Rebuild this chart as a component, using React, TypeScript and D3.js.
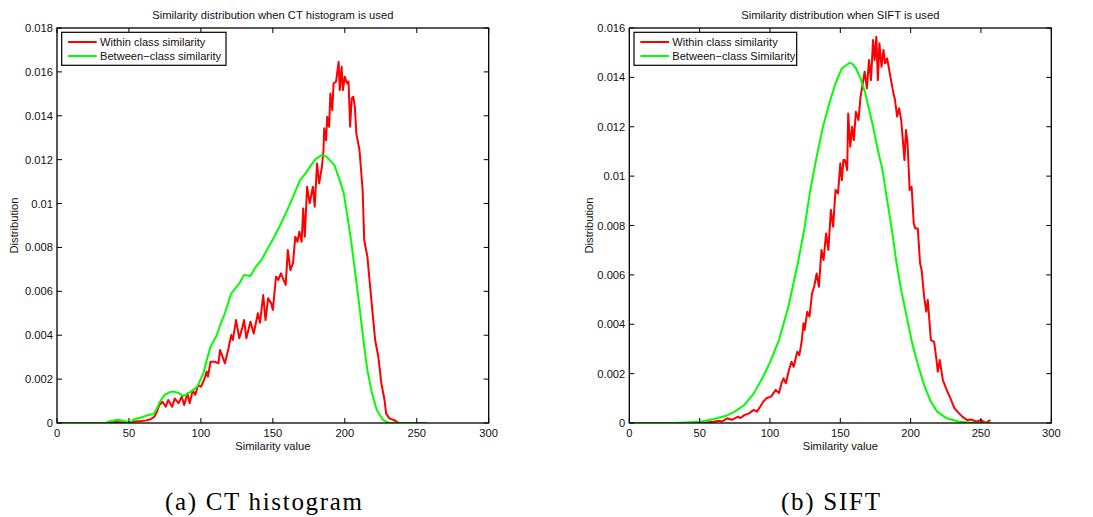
import React from "react";
import * as d3 from "d3";

type Pt = [number, number];

const xTicks = [0, 50, 100, 150, 200, 250, 300];
const ctYTicks = [0, 0.002, 0.004, 0.006, 0.008, 0.01, 0.012, 0.014, 0.016, 0.018];
const ctYLabels = ["0", "0.002", "0.004", "0.006", "0.008", "0.01", "0.012", "0.014", "0.016", "0.018"];
const siftYTicks = [0, 0.002, 0.004, 0.006, 0.008, 0.01, 0.012, 0.014, 0.016];
const siftYLabels = ["0", "0.002", "0.004", "0.006", "0.008", "0.01", "0.012", "0.014", "0.016"];

const ctBetween: Pt[] = [
  [0, 0], [34, 0], [37, 0.00008], [42, 0.00015], [46, 0.0001], [50, 0.00002], [54, 0.00018], [58, 0.00024],
  [63, 0.00036], [67, 0.0004], [69, 0.0006], [71.5, 0.00097], [74.8, 0.00128], [78, 0.0014], [81.3, 0.00143],
  [84, 0.00138], [87.7, 0.00123], [90, 0.0013], [93, 0.00143], [97.4, 0.00165], [101.7, 0.00226], [104, 0.00285],
  [106.7, 0.00348], [111, 0.004], [113, 0.0044], [116.7, 0.005], [121, 0.0059], [126.7, 0.00636], [130, 0.00674],
  [134.4, 0.0067], [138, 0.0071], [142.2, 0.00743], [146, 0.0079], [151, 0.00849], [155, 0.009], [160, 0.0097],
  [164, 0.0103], [168.9, 0.01107], [173, 0.0114], [176.5, 0.01175], [180, 0.01205], [184.1, 0.01221],
  [187, 0.01215], [189.6, 0.01198], [192.8, 0.01175], [197.2, 0.01092], [199.3, 0.01046], [201.5, 0.00955],
  [204.3, 0.00834], [207, 0.00697], [209.1, 0.0059], [211.3, 0.0047], [213.5, 0.00348], [215.7, 0.00241],
  [218.9, 0.00135], [222.2, 0.00059], [226.5, 0.00014], [230.9, 0], [257, 0],
];

const ctWithin: Pt[] = [
  [0, 0], [36, 0], [40, 0.00004], [44, 0.00003], [48, 0], [52, 0.00006], [58.6, 0.00009], [62, 0.00012],
  [65.1, 0.00017], [67.7, 0.00029], [69.4, 0.0005], [71.1, 0.00082], [73.3, 0.00097], [75.6, 0.00074],
  [77.3, 0.00105], [80, 0.00074], [81.8, 0.00112], [84.4, 0.0009], [86.7, 0.0012], [88.4, 0.00082],
  [90.7, 0.00135], [92.2, 0.0009], [94.4, 0.0015], [96, 0.00128], [98.2, 0.00173], [100, 0.00165],
  [102.2, 0.00196], [104, 0.00234], [104.9, 0.00211], [106.7, 0.00279], [110, 0.00279], [112.2, 0.00272],
  [113.3, 0.00333], [116.7, 0.00272], [118.9, 0.00333], [121.1, 0.00401], [122.2, 0.00378], [124.4, 0.00469],
  [126.7, 0.00386], [128.9, 0.00439], [130, 0.00469], [131.6, 0.00386], [134.4, 0.00462], [136.7, 0.00408],
  [139.6, 0.005], [141.1, 0.00457], [143.3, 0.00583], [144.9, 0.00469], [146.7, 0.00568], [148.9, 0.00545],
  [150, 0.00515], [152.2, 0.00667], [153.8, 0.00652], [155.6, 0.00682], [158.9, 0.00629], [160.4, 0.00788],
  [162.2, 0.00697], [164, 0.00728], [165.6, 0.00849], [167.1, 0.00826], [168.4, 0.00872], [170, 0.00826],
  [171.1, 0.00978], [172.2, 0.00849], [173.8, 0.01077], [175.6, 0.01001], [177.8, 0.01077], [179.1, 0.00986],
  [180.7, 0.01183], [182.2, 0.01092], [184.1, 0.01168], [185.2, 0.01244], [185.7, 0.01343], [187, 0.01289],
  [187.8, 0.01396], [189.1, 0.0135], [190, 0.01502], [191.3, 0.01426], [192.2, 0.01548], [193.9, 0.01555],
  [195.7, 0.01646], [196.5, 0.01517], [197.8, 0.01623], [198.7, 0.01517], [200, 0.01578], [201.5, 0.01548],
  [202.6, 0.01555], [203.7, 0.0135], [204.8, 0.01479], [205.9, 0.01487], [207, 0.01441], [208, 0.0132],
  [210.2, 0.01244], [212.4, 0.01062], [213.5, 0.00834], [215.7, 0.00758], [217.4, 0.00636], [218.9, 0.0053],
  [221.1, 0.00378], [223.3, 0.00302], [225.4, 0.00181], [227.6, 0.00105], [228.7, 0.00044], [230.9, 0.00021],
  [234.1, 0.00014], [236, 0.00005], [238, 0], [257, 0],
];

const siftBetween: Pt[] = [
  [0, 0], [30, 0], [40, 0.00002], [50, 0.00005], [59.4, 0.00015], [68.3, 0.00028], [75, 0.00046],
  [81.8, 0.00073], [88.5, 0.0012], [95.2, 0.00188], [99.7, 0.00242], [106.4, 0.00336], [113.1, 0.00471],
  [119.8, 0.00647], [124.3, 0.00782], [128.7, 0.00944], [133.2, 0.01079], [137.7, 0.012], [142.2, 0.01295],
  [146.6, 0.01376], [151.1, 0.01437], [154.5, 0.0145], [156.7, 0.01459], [158.5, 0.01455], [161.1, 0.01437],
  [164.4, 0.01396], [167.8, 0.01335], [170, 0.01281], [173.3, 0.012], [176.7, 0.01106], [180, 0.01025],
  [183.3, 0.00903], [186.7, 0.00782], [190, 0.00647], [193.3, 0.00539], [196.7, 0.00444], [201.1, 0.00323],
  [205.6, 0.00228], [210, 0.00147], [214.4, 0.00086], [218.9, 0.00046], [225.6, 0.00019], [234.4, 0.00005],
  [245, 0.00001], [257, 0],
];

const siftWithin: Pt[] = [
  [0, 0], [45, 0], [48, 0.00003], [52, 0], [54.9, 0.00002], [60, 0.00005], [63.9, 0.00009], [66, 0.00006],
  [69.5, 0.00019], [72.8, 0.00013], [77.3, 0.00026], [79, 0.0002], [81.8, 0.00032], [85.1, 0.00039],
  [88.5, 0.00053], [90.7, 0.00046], [93, 0.00066], [95.2, 0.00086], [97.4, 0.001], [100.8, 0.00107],
  [104.1, 0.00134], [106.4, 0.00121], [108.2, 0.00161], [109.7, 0.00181], [111.3, 0.00161], [113.5, 0.00215],
  [115.3, 0.00248], [116.9, 0.00228], [119.4, 0.00289], [120.9, 0.00275], [122.5, 0.00329], [123.8, 0.00404],
  [124.7, 0.00377], [126.5, 0.00451], [128.1, 0.00431], [129.9, 0.00525], [131.4, 0.00552], [133.2, 0.00606],
  [134.8, 0.00552], [136.6, 0.00701], [138.1, 0.0066], [139.9, 0.00768], [141.5, 0.00701], [143.3, 0.00863],
  [144.9, 0.00795], [146.6, 0.00944], [148.4, 0.0093], [150, 0.01052], [151.1, 0.00984], [152.2, 0.01065],
  [153.3, 0.01065], [154.9, 0.01025], [155.6, 0.01254], [157.1, 0.01119], [158.4, 0.012], [159.6, 0.01146],
  [161.1, 0.01261], [162.9, 0.01227], [164.4, 0.01322], [165.6, 0.01362], [167.3, 0.01423], [168.9, 0.01356],
  [170.4, 0.0147], [171.8, 0.01389], [173.3, 0.01551], [174.4, 0.0147], [175.6, 0.01565], [176.7, 0.01389],
  [177.8, 0.01538], [179.3, 0.01443], [180.7, 0.01511], [181.8, 0.01457], [183.3, 0.01477], [185.6, 0.01403],
  [187.8, 0.01335], [188.9, 0.01308], [190.4, 0.01241], [191.8, 0.01275], [193.3, 0.01227], [195.6, 0.01065],
  [196.7, 0.01187], [197.8, 0.01133], [199.3, 0.00944], [200.7, 0.00957], [202.2, 0.00809], [203.3, 0.00788],
  [205.1, 0.00788], [206.7, 0.00647], [207.8, 0.0062], [209.6, 0.00512], [211.1, 0.00451], [212.2, 0.00498],
  [214.4, 0.00336], [216.7, 0.00329], [218.4, 0.00255], [219.3, 0.00208], [220.7, 0.00255], [222.9, 0.00174],
  [225.6, 0.00134], [227.8, 0.00107], [231.1, 0.0006], [233.3, 0.00046], [236.7, 0.00026], [240, 0.00012],
  [243.3, 0.00014], [246.7, 0.00005], [250, 0.00012], [253.3, 0.00001], [256.7, 0.00012],
];

const SANS = "'Liberation Sans', Arial, Helvetica, sans-serif";
const FS = 11.2;

type PanelProps = {
  x0: number; x1: number; y0: number; y1: number;
  yMax: number; yTicks: number[]; yLabels: string[];
  title: string; within: Pt[]; between: Pt[];
  legendWithin: string; legendBetween: string; legendW: number;
  ylabelX: number; caption: string; captionX: number; captionW: number;
};

function Panel(p: PanelProps) {
  const x = d3.scaleLinear().domain([0, 300]).range([p.x0, p.x1]);
  const y = d3.scaleLinear().domain([0, p.yMax]).range([p.y1, p.y0]);
  const line = d3.line<Pt>().x((d) => x(d[0])).y((d) => y(d[1]));
  const tl = 5;
  const lx = p.x0 + 4.7;
  const ly = p.y0 + 4.3;
  return (
    <g>
      <text x={(p.x0 + p.x1) / 2} y={19} textAnchor="middle" fontFamily={SANS} fontSize={FS} fill="#111">{p.title}</text>
      <rect x={p.x0} y={p.y0} width={p.x1 - p.x0} height={p.y1 - p.y0} fill="#fff" />
      <clipPath id={"clip" + Math.round(p.x0)}>
        <rect x={p.x0} y={p.y0} width={p.x1 - p.x0} height={p.y1 - p.y0} />
      </clipPath>
      <g clipPath={`url(#clip${Math.round(p.x0)})`}>
        <path d={line(p.within) || ""} fill="none" stroke="#ff0000" strokeWidth={2} strokeLinejoin="round" />
        <path d={line(p.between) || ""} fill="none" stroke="#00ff00" strokeWidth={2} strokeLinejoin="round" />
      </g>
      {xTicks.map((t) => (
        <g key={"x" + t}>
          <line x1={x(t)} x2={x(t)} y1={p.y1} y2={p.y1 - tl} stroke="#000" strokeWidth={1} />
          <line x1={x(t)} x2={x(t)} y1={p.y0} y2={p.y0 + tl} stroke="#000" strokeWidth={1} />
          <text x={x(t)} y={p.y1 + 14} textAnchor="middle" fontFamily={SANS} fontSize={FS} fill="#111">{t}</text>
        </g>
      ))}
      {p.yTicks.map((t, i) => (
        <g key={"y" + t}>
          <line x1={p.x0} x2={p.x0 + tl} y1={y(t)} y2={y(t)} stroke="#000" strokeWidth={1} />
          <line x1={p.x1} x2={p.x1 - tl} y1={y(t)} y2={y(t)} stroke="#000" strokeWidth={1} />
          <text x={p.x0 - 4} y={y(t) + 4} textAnchor="end" fontFamily={SANS} fontSize={FS} fill="#111">{p.yLabels[i]}</text>
        </g>
      ))}
      <rect x={p.x0} y={p.y0} width={p.x1 - p.x0} height={p.y1 - p.y0} fill="none" stroke="#000" strokeWidth={1.3} />
      <text x={(p.x0 + p.x1) / 2} y={p.y1 + 27} textAnchor="middle" fontFamily={SANS} fontSize={FS} fill="#111">Similarity value</text>
      <text transform={`translate(${p.ylabelX},${(p.y0 + p.y1) / 2}) rotate(-90)`} textAnchor="middle" fontFamily={SANS} fontSize={FS} fill="#111">Distribution</text>
      <rect x={lx} y={ly} width={p.legendW} height={33} fill="#fff" stroke="#000" strokeWidth={1.2} />
      <line x1={lx + 6.3} x2={lx + 35} y1={ly + 9.7} y2={ly + 9.7} stroke="#ff0000" strokeWidth={2} />
      <line x1={lx + 6.3} x2={lx + 35} y1={ly + 23.7} y2={ly + 23.7} stroke="#00ff00" strokeWidth={2} />
      <text x={lx + 38.3} y={ly + 13.7} fontFamily={SANS} fontSize={11.1} fill="#111">{p.legendWithin}</text>
      <text x={lx + 38.3} y={ly + 27.7} fontFamily={SANS} fontSize={11.1} fill="#111">{p.legendBetween}</text>
      <text x={p.captionX} y={510} textAnchor="middle" fontFamily="'Liberation Serif', 'Times New Roman', serif" fontSize={25} fill="#000" textLength={p.captionW} lengthAdjust="spacing">{p.caption}</text>
    </g>
  );
}

export default function App() {
  return (
    <svg width={1093} height={517} style={{ position: "absolute", left: 0, top: 0, background: "#fff" }}>
      <rect x={0} y={0} width={1093} height={517} fill="#fff" />
      <Panel
        x0={57} x1={488.7} y0={28} y1={423} yMax={0.018} yTicks={ctYTicks} yLabels={ctYLabels}
        title="Similarity distribution when CT histogram is used" within={ctWithin} between={ctBetween}
        legendWithin="Within class similarity" legendBetween="Between−class similarity" legendW={164.3}
        ylabelX={18} caption="(a) CT histogram" captionX={263.5} captionW={197}
      />
      <Panel
        x0={629.3} x1={1051.3} y0={28} y1={423} yMax={0.016} yTicks={siftYTicks} yLabels={siftYLabels}
        title="Similarity distribution when SIFT is used" within={siftWithin} between={siftBetween}
        legendWithin="Within class similarity" legendBetween="Between−class Similarity" legendW={162.7}
        ylabelX={593} caption="(b) SIFT" captionX={830.5} captionW={99}
      />
    </svg>
  );
}
